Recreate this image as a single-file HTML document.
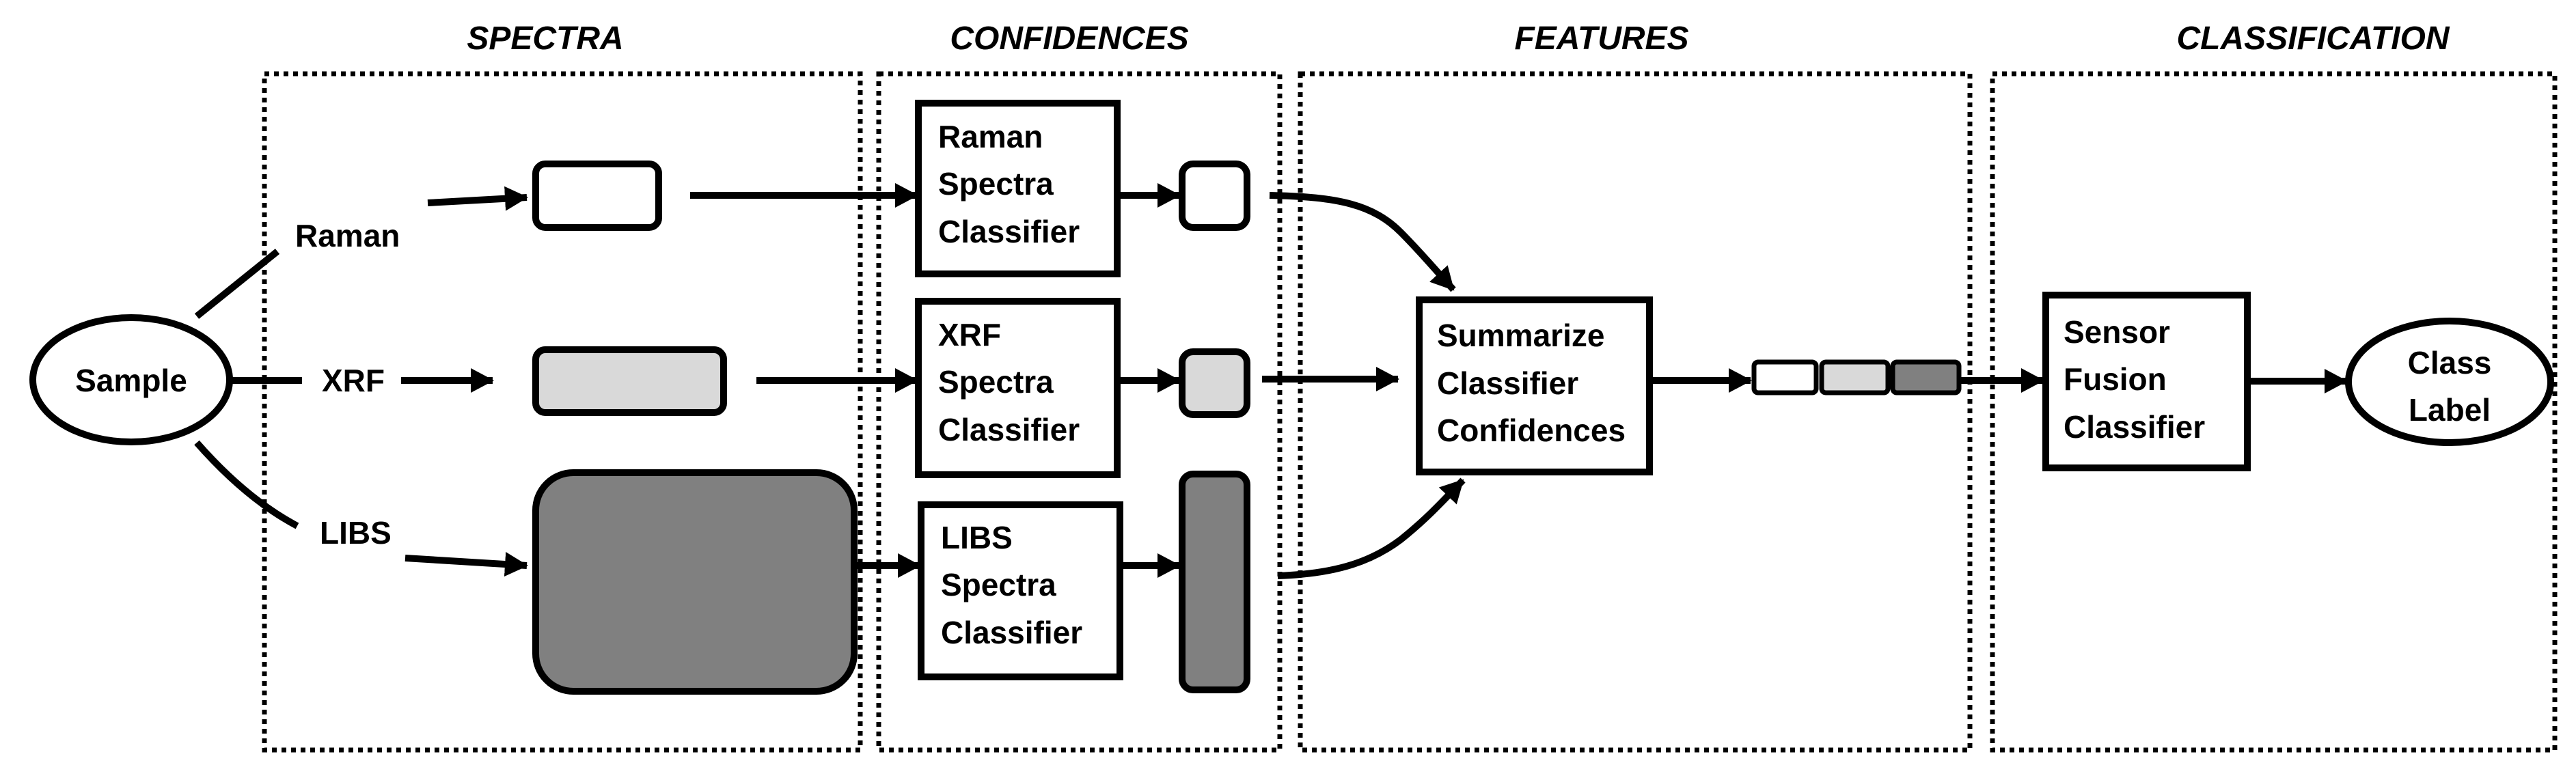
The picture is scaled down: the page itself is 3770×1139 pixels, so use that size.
<!DOCTYPE html>
<html><head><meta charset="utf-8"><style>
html,body{margin:0;padding:0;background:#fff;}
svg{display:block;}
text{font-family:"Liberation Sans",sans-serif;font-weight:bold;fill:#000;}
.t{font-size:46px;}
.h{font-size:48px;font-style:italic;}
</style></head><body>
<svg width="3770" height="1139" viewBox="0 0 3770 1139" xmlns="http://www.w3.org/2000/svg">
<defs>
<marker id="a" markerUnits="userSpaceOnUse" markerWidth="34" markerHeight="36" refX="32" refY="18" orient="auto">
<path d="M0,0 L34,18 L0,36 Z" fill="#000"/>
</marker>
</defs>
<text class="h" x="798" y="72" text-anchor="middle">SPECTRA</text>
<text class="h" x="1565" y="72" text-anchor="middle">CONFIDENCES</text>
<text class="h" x="2344" y="72" text-anchor="middle">FEATURES</text>
<text class="h" x="3385" y="72" text-anchor="middle">CLASSIFICATION</text>
<g fill="none" stroke="#000" stroke-width="7" stroke-dasharray="7 7">
<rect x="387" y="108" width="872" height="990"/>
<rect x="1286" y="108" width="587" height="990"/>
<rect x="1903" y="108" width="980" height="990"/>
<rect x="2916" y="108" width="823" height="990"/>
</g>
<g stroke="#000" stroke-width="10" fill="none">
<ellipse cx="192" cy="556" rx="144" ry="91" fill="#fff"/>
<line x1="288" y1="463" x2="406" y2="368"/>
<line x1="338" y1="557" x2="442" y2="557"/>
<path d="M288,648 Q360,730 435,770"/>
<line x1="626" y1="297" x2="771" y2="289" marker-end="url(#a)"/>
<line x1="587" y1="557" x2="721" y2="557" marker-end="url(#a)"/>
<line x1="593" y1="817" x2="771" y2="828" marker-end="url(#a)"/>
<rect x="784" y="240" width="180" height="93" rx="14" fill="#fff"/>
<rect x="784" y="512" width="275" height="92" rx="14" fill="#d9d9d9"/>
<rect x="784" y="692" width="466" height="320" rx="55" fill="#808080"/>
<line x1="1010" y1="286" x2="1342" y2="286" marker-end="url(#a)"/>
<line x1="1107" y1="557" x2="1342" y2="557" marker-end="url(#a)"/>
<line x1="1250" y1="828" x2="1346" y2="828" marker-end="url(#a)"/>
<rect x="1344" y="151" width="291" height="250" fill="#fff"/>
<rect x="1344" y="441" width="291" height="254" fill="#fff"/>
<rect x="1348" y="739" width="291" height="252" fill="#fff"/>
<line x1="1635" y1="286" x2="1726" y2="286" marker-end="url(#a)"/>
<line x1="1635" y1="557" x2="1726" y2="557" marker-end="url(#a)"/>
<line x1="1639" y1="828" x2="1726" y2="828" marker-end="url(#a)"/>
<rect x="1730" y="240" width="95" height="93" rx="16" fill="#fff"/>
<rect x="1730" y="515" width="95" height="92" rx="16" fill="#d9d9d9"/>
<rect x="1730" y="694" width="95" height="316" rx="16" fill="#808080"/>
<path d="M1858,286 C1960,288 2010,300 2050,340 C2080,370 2105,400 2127,424" marker-end="url(#a)"/>
<line x1="1847" y1="555" x2="2046" y2="555" marker-end="url(#a)"/>
<path d="M1870,843 C1960,840 2010,820 2050,790 C2090,758 2115,730 2141,703" marker-end="url(#a)"/>
<rect x="2077" y="439" width="337" height="252" fill="#fff"/>
<line x1="2414" y1="557" x2="2562" y2="557" marker-end="url(#a)"/>
<rect x="2567" y="530" width="91" height="45" rx="6" fill="#fff" stroke-width="7"/>
<rect x="2666" y="530" width="97" height="45" rx="6" fill="#d9d9d9" stroke-width="7"/>
<rect x="2770" y="530" width="97" height="45" rx="6" fill="#808080" stroke-width="7"/>
<line x1="2867" y1="557" x2="2990" y2="557" marker-end="url(#a)"/>
<rect x="2994" y="432" width="295" height="253" fill="#fff"/>
<line x1="3289" y1="558" x2="3434" y2="558" marker-end="url(#a)"/>
<ellipse cx="3585" cy="559" rx="148" ry="89" fill="#fff"/>
</g>
<text class="t" x="192" y="573" text-anchor="middle">Sample</text>
<text class="t" x="432" y="361">Raman</text>
<text class="t" x="471" y="573">XRF</text>
<text class="t" x="468" y="796">LIBS</text>
<text class="t" x="1373" y="216">Raman</text>
<text class="t" x="1373" y="285">Spectra</text>
<text class="t" x="1373" y="355">Classifier</text>
<text class="t" x="1373" y="506">XRF</text>
<text class="t" x="1373" y="575">Spectra</text>
<text class="t" x="1373" y="645">Classifier</text>
<text class="t" x="1377" y="803">LIBS</text>
<text class="t" x="1377" y="872">Spectra</text>
<text class="t" x="1377" y="942">Classifier</text>
<text class="t" x="2103" y="507">Summarize</text>
<text class="t" x="2103" y="577">Classifier</text>
<text class="t" x="2103" y="646">Confidences</text>
<text class="t" x="3020" y="502">Sensor</text>
<text class="t" x="3020" y="571">Fusion</text>
<text class="t" x="3020" y="641">Classifier</text>
<text class="t" x="3585" y="547" text-anchor="middle">Class</text>
<text class="t" x="3585" y="616" text-anchor="middle">Label</text>
</svg>
</body></html>
